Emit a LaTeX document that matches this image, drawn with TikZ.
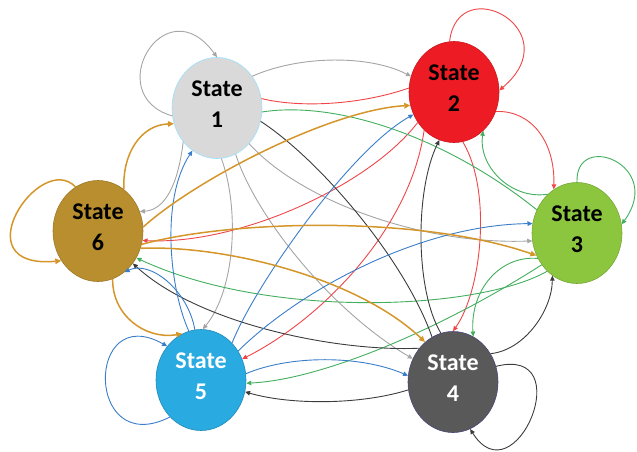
\documentclass[tikz,border=0pt]{standalone}
\usepackage{fontspec}
\setmainfont{Carlito}
\usetikzlibrary{shapes.geometric,arrows.meta}
\definecolor{cgray}{HTML}{A5A5A5}
\definecolor{cred}{HTML}{EF4548}
\definecolor{cgreen}{HTML}{42AE5E}
\definecolor{cdark}{HTML}{3C3C3C}
\definecolor{cblue}{HTML}{3A7DC9}
\definecolor{corange}{HTML}{D4962B}
\definecolor{fone}{HTML}{D9D9D9}
\definecolor{ftwo}{HTML}{ED1C24}
\definecolor{fthree}{HTML}{8CC63F}
\definecolor{ffour}{HTML}{595959}
\definecolor{ffive}{HTML}{29ABE2}
\definecolor{fsix}{HTML}{B98E2F}
\begin{document}
\begin{tikzpicture}[x=1pt,y=-1pt,
  state/.style={ellipse, minimum width=90pt, minimum height=101pt, inner sep=0pt,
    align=center, font=\fontsize{24}{31}\selectfont\bfseries, text depth=8pt, line width=0.6pt},
  conn/.style={line width=0.9pt,-{Triangle[length=5pt,width=4.5pt]}},
  plain/.style={line width=0.9pt,-},
  lgray/.style={conn,draw=cgray,fill=none},
  lred/.style={conn,draw=cred},
  lgreen/.style={conn,draw=cgreen},
  ldark/.style={conn,draw=cdark},
  lblue/.style={conn,draw=cblue},
  lorange/.style={line width=1.5pt,draw=corange,-{Triangle[length=6pt,width=5.5pt]}},
]
\useasboundingbox (0,0) rectangle (637,451);

\node[state, fill=fone, draw=blue!30!cyan!40] (s1) at (217,108) {State\\1};
\node[state, fill=ftwo, draw=ftwo!85!black] (s2) at (454,92) {State\\2};
\node[state, fill=fthree, draw=fthree!85!black] (s3) at (577,233) {State\\3};
\node[state, fill=ffour, draw=ffour!80!blue, text=white] (s4) at (453,382) {State\\4};
\node[state, fill=ffive, draw=ffive!80!black, text=white] (s5) at (201,380) {State\\5};
\node[state, fill=fsix, draw=fsix!85!black] (s6) at (98,231) {State\\6};

% from State 1 (gray)
\draw[lgray] (s1.190) .. controls (100,95) and (165,-15) .. (s1.90);
\draw[lgray] (s1.42) .. controls (300,55) and (370,55) .. (s2.160);
\draw[lgray] (s1.225) .. controls (178,185) and (165,210) .. (s6.25);
\draw[lgray] (s1.-85) .. controls (240,210) and (235,290) .. (s5.88);
\draw[lgray] (s1.-68) .. controls (255,215) and (330,310) .. (s4.150);
\draw[lgray] (s1.-48) .. controls (300,200) and (420,245) .. (s3.190);

% from State 2 (red)
\draw[lred] (s2.95) .. controls (458,-30) and (570,30) .. (s2.2);
\draw[plain, draw=cred] (s2.175) .. controls (360,105) and (300,108) .. (s1.12);
\draw[lred] (s2.-25) .. controls (530,110) and (555,140) .. (s3.118);
\draw[lred] (s2.-80) .. controls (492,190) and (482,290) .. (s4.90);
\draw[lred] (s2.232) .. controls (410,230) and (320,320) .. (s5.27);
\draw[lred] (s2.220) .. controls (370,185) and (240,245) .. (s6.-12);

% from State 3 (green)
\draw[lgreen] (s3.90) .. controls (575,130) and (665,165) .. (s3.11);
\draw[lgreen] (s3.127) .. controls (510,200) and (478,165) .. (s2.-53);
\draw[plain, draw=cgreen] (s3.150) .. controls (450,140) and (340,100) .. (s1.-5);
\draw[lgreen] (s3.232) .. controls (480,310) and (270,320) .. (s6.-35);
\draw[lgreen] (s3.222) .. controls (440,330) and (320,380) .. (s5.-4);
\draw[lgreen] (s3.213) .. controls (500,255) and (470,290) .. (s4.66);

% from State 4 (dark)
\draw[ldark] (s4.20) .. controls (580,345) and (515,500) .. (s4.-70);
\draw[ldark] (s4.37) .. controls (525,350) and (552,310) .. (s3.-120);
\draw[ldark] (s4.104) .. controls (415,290) and (415,190) .. (s2.-107);
\draw[plain, draw=cdark] (s4.115) .. controls (405,260) and (320,160) .. (s1.-17);
\draw[ldark] (s4.135) .. controls (340,352) and (200,325) .. (s6.-43);
\draw[ldark] (s4.190) .. controls (360,405) and (290,405) .. (s5.-15);

% from State 5 (blue)
\draw[lblue] (s5.230) .. controls (85,460) and (85,300) .. (s5.135);
\draw[lblue] (s5.104) .. controls (170,290) and (160,200) .. (s1.-120);
\draw[lblue] (s5.97) .. controls (188,290) and (150,260) .. (s6.-57);
\draw[lblue] (s5.50) .. controls (255,285) and (350,150) .. (s2.209);
\draw[lblue] (s5.38) .. controls (300,290) and (420,225) .. (s3.168);
\draw[lblue] (s5.8) .. controls (290,355) and (360,355) .. (s4.172);

% from State 6 (orange)
\draw[lorange] (s6.117) .. controls (40,150) and (-40,270) .. (s6.219);
\draw[lorange] (s6.58) .. controls (122,155) and (140,125) .. (s1.200);
\draw[lorange] (s6.5) .. controls (195,180) and (330,110) .. (s2.197);
\draw[lorange] (s6.-17) .. controls (230,220) and (420,215) .. (s3.209);
\draw[lorange] (s6.-22) .. controls (230,245) and (360,280) .. (s4.125);
\draw[lorange] (s6.-73) .. controls (112,315) and (145,340) .. (s5.112);
\end{tikzpicture}
\end{document}
